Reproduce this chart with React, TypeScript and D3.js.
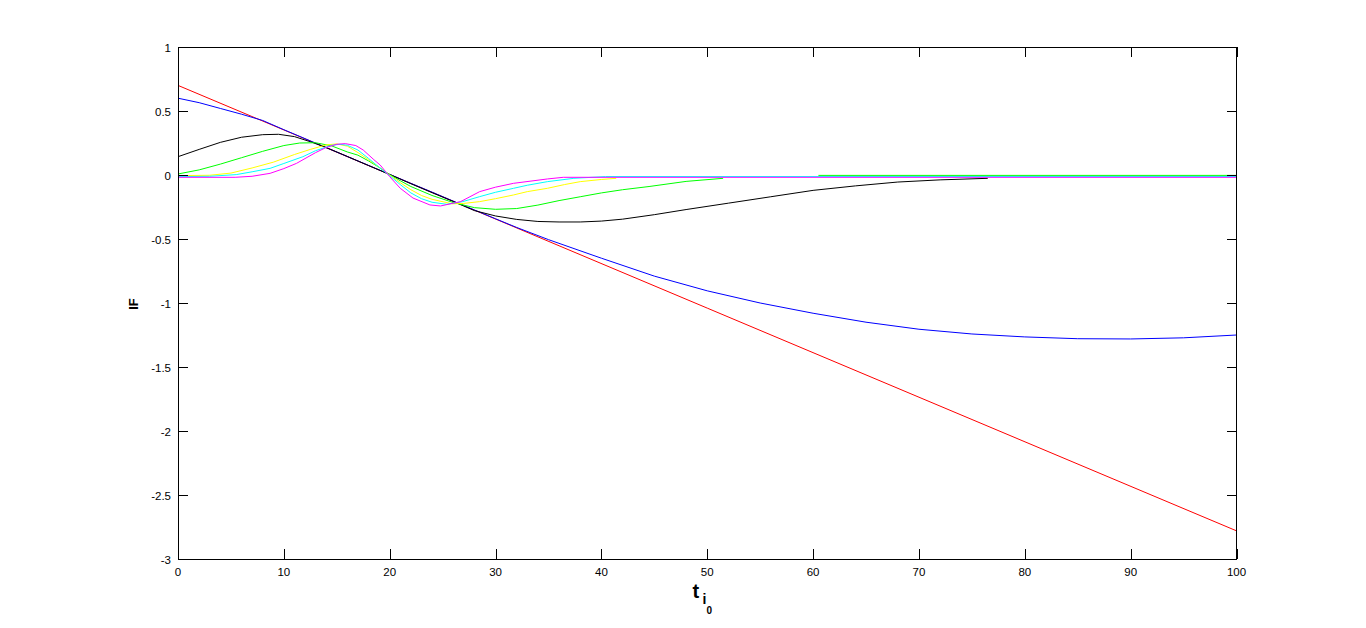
import React from "react";
import * as d3 from "d3";

type Pt = [number, number] | null;

const xTicks = [0, 10, 20, 30, 40, 50, 60, 70, 80, 90, 100];
const yTicks = [1, 0.5, 0, -0.5, -1, -1.5, -2, -2.5, -3];
const yTickLabels = ["1", "0.5", "0", "-0.5", "-1", "-1.5", "-2", "-2.5", "-3"];

const redSeries: Pt[] = [[0, 0.7], [50, -1.04], [100, -2.78]];

const blueSeries: Pt[] = [
  [0, 0.6], [2, 0.565], [4, 0.52], [6, 0.475], [8, 0.426], [10, 0.354], [12, 0.284],
  [14, 0.214], [16, 0.144], [18, 0.075], [20, 0.005], [22, -0.065], [24, -0.134],
  [26, -0.204], [28, -0.273], [30, -0.342], [32, -0.41], [35, -0.505], [40, -0.65],
  [45, -0.79], [50, -0.905], [55, -1.0], [60, -1.08], [65, -1.15], [70, -1.205],
  [75, -1.242], [80, -1.265], [85, -1.279], [90, -1.281], [95, -1.272], [100, -1.25],
];

const blackSeries: Pt[] = [
  [0, 0.143], [2, 0.2], [4, 0.255], [6, 0.295], [8, 0.315], [9.5, 0.318], [11, 0.3],
  [12.5, 0.26], [14, 0.215], [16, 0.145], [18, 0.074], [20, 0.004], [22, -0.068],
  [24, -0.138], [26, -0.207], [28, -0.278], [30, -0.32], [32, -0.347], [34, -0.363],
  [36, -0.367], [38, -0.367], [40, -0.36], [42, -0.345], [45, -0.31], [48, -0.27],
  [52, -0.22], [56, -0.17], [60, -0.12], [64, -0.085], [68, -0.055], [72, -0.038],
  [76.5, -0.026],
];

const greenSeries: Pt[] = [
  [0, 0.008], [2, 0.04], [4, 0.085], [6, 0.135], [8, 0.185], [10, 0.23], [11.5, 0.25],
  [13, 0.252], [14.5, 0.228], [16, 0.18], [17, 0.155], [18, 0.11], [19, 0.06],
  [20, 0.003], [21, -0.045], [22, -0.09], [24, -0.16], [26, -0.215], [28, -0.255],
  [30, -0.268], [32, -0.262], [34, -0.235], [36, -0.2], [38, -0.17], [40, -0.14],
  [42, -0.115], [44.5, -0.09], [48, -0.05], [51.5, -0.026], null, [60.5, -0.003],
  [100, -0.003],
];

const yellowSeries: Pt[] = [
  [0, -0.005], [3, -0.002], [5, 0.015], [7, 0.055], [9, 0.1], [11, 0.16], [12.5, 0.2],
  [14, 0.235], [15, 0.243], [16, 0.225], [17, 0.175], [18, 0.12], [19, 0.06], [20, 0.0],
  [21, -0.06], [22, -0.115], [23, -0.16], [24, -0.19], [25.9, -0.225], [27, -0.222],
  [28.5, -0.208], [30, -0.185], [31.7, -0.156], [33, -0.13], [34.9, -0.104],
  [36.5, -0.075], [38, -0.052], [40, -0.035], [41.4, -0.026],
];

const cyanSeries: Pt[] = [
  [0, -0.013], [3, -0.01], [5.5, 0.003], [7, 0.025], [8.7, 0.052], [10, 0.09],
  [11.8, 0.143], [13, 0.19], [14.5, 0.232], [15.3, 0.24], [16, 0.232], [17, 0.195],
  [18, 0.13], [19, 0.06], [20, -0.005], [21, -0.075], [22, -0.14], [23, -0.185],
  [24, -0.213], [25.4, -0.229], [26.9, -0.208], [28.5, -0.169], [30, -0.135],
  [31.7, -0.104], [33, -0.08], [34.9, -0.052], [37.4, -0.026], [40.4, -0.012],
  [100, -0.012],
];

const magentaSeries: Pt[] = [
  [0, -0.018], [5.4, -0.018], [7, -0.01], [8.7, 0.013], [10, 0.05], [11.2, 0.091],
  [13, 0.175], [14, 0.215], [15, 0.24], [15.8, 0.245], [16.8, 0.23], [17.5, 0.195],
  [18.5, 0.12], [19.1, 0.078], [20, -0.013], [21, -0.104], [22.2, -0.18],
  [23.8, -0.234], [24.8, -0.242], [26.7, -0.208], [28.5, -0.13], [30, -0.095],
  [31.7, -0.065], [34.9, -0.031], [36.4, -0.018], [100, -0.018],
];

const seriesList: { data: Pt[]; color: string }[] = [
  { data: redSeries, color: "#ff0000" },
  { data: blueSeries, color: "#0000ff" },
  { data: blackSeries, color: "#000000" },
  { data: greenSeries, color: "#00ff00" },
  { data: yellowSeries, color: "#ffff00" },
  { data: cyanSeries, color: "#00ffff" },
  { data: magentaSeries, color: "#ff00ff" },
];

const W = 1366;
const H = 628;
const L = 178;
const R = 1236.5;
const T = 47;
const B = 559;

export default function App() {
  const x = d3.scaleLinear().domain([0, 100]).range([L, R]);
  const y = d3.scaleLinear().domain([-3, 1]).range([B, T]);
  const line = d3
    .line<Pt>()
    .defined((d) => d !== null)
    .x((d) => x((d as [number, number])[0]))
    .y((d) => y((d as [number, number])[1]));

  const font = "'Liberation Sans', Arial, Helvetica, sans-serif";
  const tickLen = 10;

  return (
    <svg
      width={W}
      height={H}
      style={{ position: "fixed", left: 0, top: 0, background: "#fff" }}
      fontFamily={font}
    >
      <rect x={0} y={0} width={W} height={H} fill="#fff" />
      {seriesList.map((s, i) => (
        <path
          key={i}
          d={line(s.data) || ""}
          fill="none"
          stroke={s.color}
          strokeWidth={1}
        />
      ))}
      <g shapeRendering="crispEdges" stroke="#000" strokeWidth={1}>
        <rect x={L + 0.5} y={T + 0.5} width={R - L - 1} height={B - T} fill="none" />
        {xTicks.map((t) => (
          <g key={"xt" + t}>
            <line x1={Math.round(x(t)) + 0.5} x2={Math.round(x(t)) + 0.5} y1={B} y2={B - tickLen} />
            <line x1={Math.round(x(t)) + 0.5} x2={Math.round(x(t)) + 0.5} y1={T} y2={T + tickLen} />
          </g>
        ))}
        {yTicks.map((t) => (
          <g key={"yt" + t}>
            <line x1={L} x2={L + tickLen} y1={Math.round(y(t)) + 0.5} y2={Math.round(y(t)) + 0.5} />
            <line x1={R} x2={R - tickLen} y1={Math.round(y(t)) + 0.5} y2={Math.round(y(t)) + 0.5} />
          </g>
        ))}
      </g>
      {xTicks.map((t) => (
        <text key={"xl" + t} x={x(t)} y={576} fontSize={11.5} textAnchor="middle" fill="#000">
          {String(t)}
        </text>
      ))}
      {yTicks.map((t, i) => (
        <text key={"yl" + t} x={171} y={y(t) + 5} fontSize={11.5} textAnchor="end" fill="#000">
          {yTickLabels[i]}
        </text>
      ))}
      <text
        transform="translate(138,304) rotate(-90)"
        fontSize={13}
        fontWeight="bold"
        textAnchor="middle"
        fill="#000"
      >
        IF
      </text>
      <text x={692.5} y={597.5} fontSize={20} fontWeight="bold" fill="#000">t</text>
      <text x={702.5} y={603.5} fontSize={14} fontWeight="bold" fill="#000">i</text>
      <text x={706.5} y={613.5} fontSize={10} fontWeight="bold" fill="#000">0</text>
    </svg>
  );
}
